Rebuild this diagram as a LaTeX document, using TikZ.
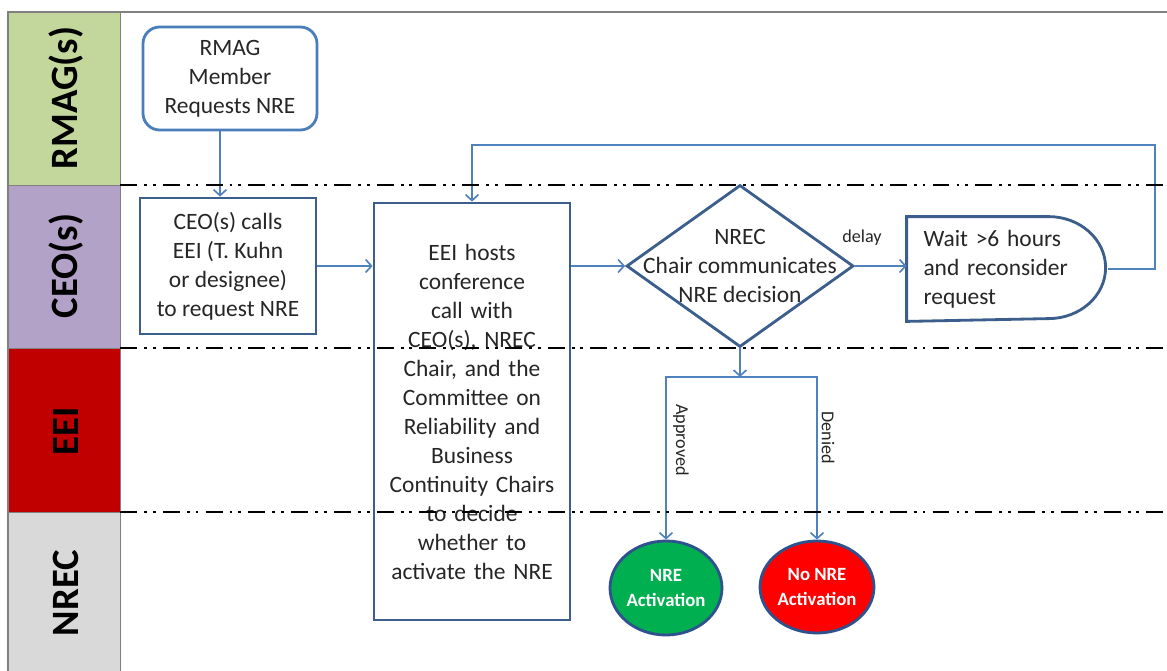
\documentclass[tikz,border=0pt]{standalone}
\usepackage{fontspec}
\setmainfont{Carlito}
\usetikzlibrary{shapes.geometric,arrows.meta,calc}
\definecolor{rmagc}{HTML}{C3D69B}
\definecolor{ceoc}{HTML}{B3A2C7}
\definecolor{eeic}{HTML}{C00000}
\definecolor{nrecc}{HTML}{D9D9D9}
\definecolor{boxc}{HTML}{3B5E8C}
\definecolor{arrc}{HTML}{4F81BD}
\definecolor{rmagbox}{HTML}{4A7EBB}
\definecolor{greenc}{HTML}{00B050}
\definecolor{redc}{HTML}{FF0000}
\definecolor{ellc}{HTML}{2F528F}
\def\u{0.03cm}
\begin{document}
\begin{tikzpicture}[x=0.03cm,y=-0.03cm,
  lanetext/.style={font=\fontsize{33}{36}\selectfont\bfseries, rotate=90, inner sep=0pt},
  stepbox/.style={draw=boxc, line width=2.4pt, align=center, inner sep=0pt,
    font=\fontsize{20}{24.75}\selectfont, text=black!85},
  endnode/.style={ellipse, draw=ellc, line width=2.4pt, inner sep=0pt, text=white,
    font=\fontsize{16}{21}\selectfont\bfseries, align=center},
  arr/.style={draw=arrc, line width=1.6pt, -{Straight Barb[length=5pt,width=11pt,line width=1.4pt]}},
  lbl/.style={font=\fontsize{15.5}{18}\selectfont, text=black!85, inner sep=0pt},
  lanesep/.style={line width=2.2pt, black, dash pattern=on 14.5pt off 6pt on 2.5pt off 5pt on 2.5pt off 6pt}
]
\useasboundingbox (0,0) rectangle (1167,671);
\fill[white] (0,0) rectangle (1167,671);
% lane header column
\fill[rmagc] (8,12) rectangle (120,185);
\fill[ceoc] (8,185) rectangle (120,348);
\fill[eeic] (8,348) rectangle (120,512);
\fill[nrecc] (8,512) rectangle (120,671);
\draw[gray, line width=1.2pt] (1167,12) -- (8,12) -- (8,671);
\draw[gray, line width=0.8pt] (120,12) -- (120,671);
\draw[gray, line width=0.8pt] (8,185) -- (120,185) (8,348) -- (120,348) (8,512) -- (120,512);
\node[lanetext] (l1) at (66,98) {RMAG(s)};
\node[lanetext] (l2) at (66,266) {CEO(s)};
\node[lanetext] (l3) at (66,431) {EEI};
\node[lanetext] (l4) at (66,593) {NREC};

% process nodes
\node[stepbox, draw=rmagbox, rounded corners=0.5cm, minimum width=174*\u, minimum height=103*\u]
  (rmag) at (230,78.5) {RMAG\\Member\\Requests NRE};
\node[stepbox, minimum width=176*\u, minimum height=136*\u] (ceo) at (228,266)
  {CEO(s) calls\\EEI (T. Kuhn\\or designee)\\to request NRE};
\node[stepbox, minimum width=196*\u, minimum height=417*\u, text width=190*\u] (eei) at (472,411.5)
  {EEI hosts\\conference\\call with\\CEO(s), NREC\\Chair, and the\\Committee on\\Reliability and\\Business\\Continuity Chairs\\to decide\\whether to\\activate the NRE};
\node[diamond, draw=boxc, line width=2.4pt, minimum width=227*\u, minimum height=162*\u, inner sep=0pt]
  (dia) at (740,266) {};
\node[stepbox, draw=none] (diat) at (740,266) {NREC\\Chair communicates\\NRE decision};
\node[stepbox, draw=none, minimum width=199*\u, minimum height=102*\u, text width=168*\u, align=left]
  (delay) at (1007.5,269) {Wait >6 hours\\and reconsider\\request};
\draw[boxc, line width=2.4pt] (delay.north west) -- ++(142,0)
  arc[start angle=90, end angle=-90, x radius=1.71cm, y radius=1.53cm] -- (delay.south west) -- cycle;
\node[endnode, fill=greenc, minimum width=112*\u, minimum height=94*\u] (app) at (666,588) {NRE\\Activation};
\node[endnode, fill=redc, minimum width=114*\u, minimum height=92*\u] (den) at (817,587) {No NRE\\Activation};

% connectors
\coordinate (r1) at ([xshift=-0.3cm]rmag.south);
\draw[arr] (r1) -- (r1 |- ceo.north);
\draw[arr] (ceo.east) -- (ceo.east -| eei.west);
\draw[arr] (eei.east |- dia.west) -- (dia.west);
\draw[arr] (dia.east) -- (dia.east -| delay.west);
\node[lbl] (dl) at (862,238) {delay};
\coordinate (lp) at (1155,145);
\draw[arr] (delay.east) -| (lp) -| (eei.north);
\coordinate (sp) at (740,377);
\draw[arr] (dia.south) -- (sp);
\draw[arr] (sp) -| (app.north);
\draw[arr] (sp) -| (den.north);
\node[lbl, rotate=-90] (al) at (681,440) {Approved};
\node[lbl, rotate=-90] (dnl) at (828,438) {Denied};

% lane separators
\draw[lanesep] (120,185) -- (1167,185);
\draw[lanesep] (120,348) -- (1167,348);
\draw[lanesep] (120,512) -- (1167,512);
\end{tikzpicture}
\end{document}
